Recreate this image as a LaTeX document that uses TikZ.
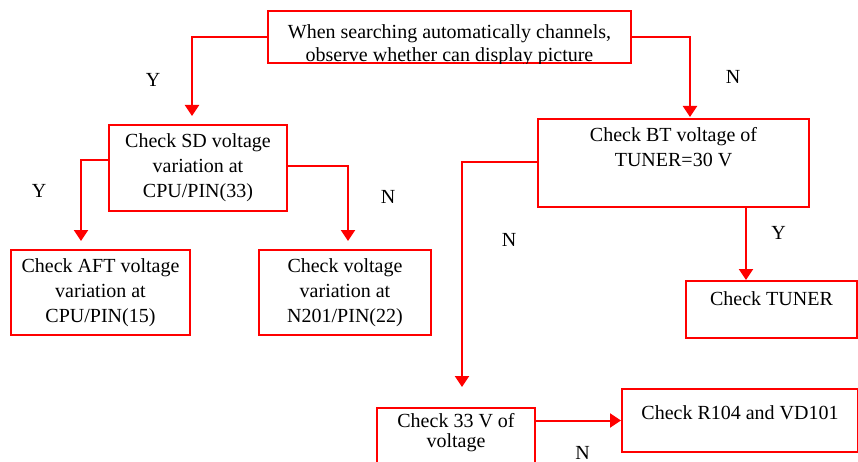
\documentclass[tikz,border=0pt]{standalone}
\usepackage{fontspec}
\setmainfont{Liberation Serif}
\usetikzlibrary{arrows.meta}
\begin{document}
\begin{tikzpicture}[x=1pt,y=-1pt,>={Triangle[width=14pt,length=11pt]},
  box/.style={draw=red,line width=2pt,align=center,inner sep=0pt,
    font=\fontsize{20}{25}\selectfont},
  flow/.style={red,line width=2pt,->},
  yn/.style={inner sep=0pt,font=\fontsize{20}{24}\selectfont}]
 \useasboundingbox (0,0) rectangle (858,462);
 \node[box,minimum width=363pt,minimum height=52pt] (start) at (449.5,37) {};
 \begin{scope}
  \clip (start.south west) rectangle (start.north east);
  \node[box,draw=none,font=\fontsize{20}{23}\selectfont] (starttxt) at (449.5,45.5)
    {When searching automatically channels,\\observe whether can display picture};
 \end{scope}
 \node[box,minimum width=178pt,minimum height=86pt] (sd) at (198,168)
   {Check SD voltage\\variation at\\CPU/PIN(33)};
 \node[box,minimum width=179pt,minimum height=85pt] (aft) at (100.5,292.5)
   {Check AFT voltage\\variation at\\CPU/PIN(15)};
 \node[box,minimum width=172pt,minimum height=85pt] (n201) at (345,292.5)
   {Check voltage\\variation at\\N201/PIN(22)};
 \node[box,minimum width=271pt,minimum height=88pt] (bt) at (673.5,163)
   {Check BT voltage of\\TUNER=30 V\\\strut};
 \node[box,minimum width=171pt,text height=24pt,text depth=33pt] (tuner) at (771.5,309.5)
   {Check TUNER};
 \node[box,minimum width=236pt,text height=30pt,text depth=33pt] (r104) at (740,420.5)
   {Check R104 and VD101};
 \node[box,minimum width=158pt,minimum height=70pt,font=\fontsize{20}{20}\selectfont] (v33) at (456,443)
   {Check 33 V of\\voltage\\\strut};
 \coordinate (btout) at ([xshift=72.5pt]bt.south);
 \draw[flow] (start.west) -| ([xshift=-6pt,yshift=8pt]sd.north);
 \draw[flow] (start.east) -| ([xshift=16.5pt,yshift=1pt]bt.north);
 \draw[flow] ([yshift=8pt]sd.west) -| ([xshift=-19.5pt,yshift=8pt]aft.north);
 \draw[flow] ([yshift=2pt]sd.east) -| ([xshift=3pt,yshift=8pt]n201.north);
 \draw[flow] ([yshift=1pt]bt.west) -| ([xshift=6pt,yshift=20pt]v33.north);
 \draw[flow] (btout) -- (btout |- tuner.north);
 \draw[flow] (v33.east |- r104.west) -- (r104.west);
 \node[yn] (y1) at (153,80) {Y};
 \node[yn] (n1) at (733,77) {N};
 \node[yn] (y2) at (39,190.5) {Y};
 \node[yn] (n2) at (388,196.5) {N};
 \node[yn] (n3) at (509,240) {N};
 \node[yn] (y3) at (778.5,232.5) {Y};
 \node[yn] (n4) at (582.5,452.5) {N};
\end{tikzpicture}
\end{document}
